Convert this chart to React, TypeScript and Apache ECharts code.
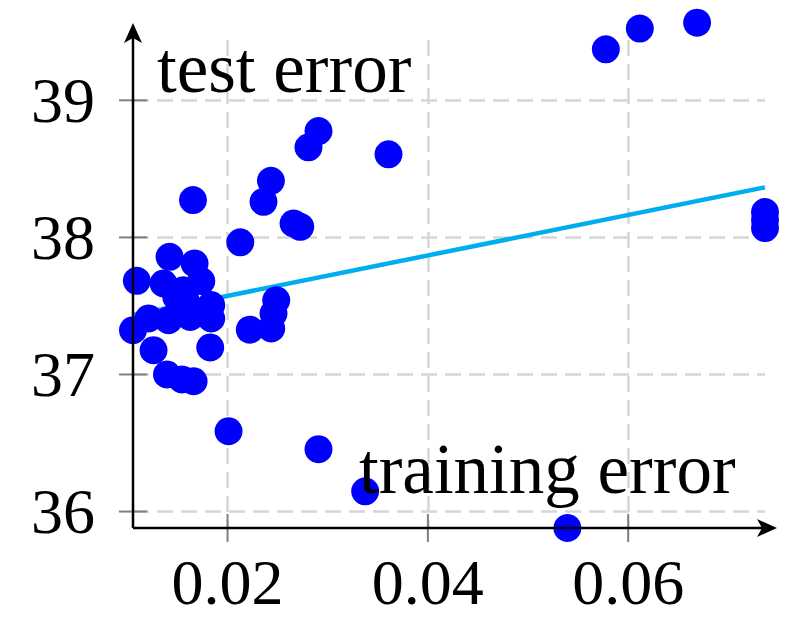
import React, { useEffect, useRef } from "react";
import * as echarts from "echarts";

// training error (x) and test error (y) of each run
const trainingError = [
  0.01094, 0.01421, 0.01671, 0.01738, 0.01361, 0.01488, 0.01558, 0.01588, 0.01837, 0.01837,
  0.01627, 0.01411, 0.01212, 0.01056, 0.01261, 0.01827, 0.01395, 0.01545, 0.01661, 0.0201,
  0.02908, 0.03374, 0.05393, 0.02222, 0.02436, 0.02459, 0.02486, 0.02127, 0.02659, 0.02726,
  0.02359, 0.02433, 0.02808, 0.02908, 0.03607, 0.01655, 0.05777, 0.06116, 0.06688, 0.07366,
  0.07366, 0.07366,
];
const testError = [
  37.683, 37.858, 37.81, 37.681, 37.664, 37.566, 37.615, 37.528, 37.506, 37.409,
  37.42, 37.396, 37.409, 37.323, 37.177, 37.197, 37.0, 36.964, 36.951, 36.586,
  36.455, 36.148, 35.88, 37.327, 37.336, 37.445, 37.542, 37.964, 38.102, 38.077,
  38.26, 38.413, 38.657, 38.776, 38.606, 38.272, 39.372, 39.523, 39.566, 38.185,
  38.126, 38.068,
];

// fitted trend line end points
const trendX = [0.01056, 0.07366];
const trendY = [37.434, 38.365];

const xTicks = [0.02, 0.04, 0.06];
const xTickLabels = ["0.02", "0.04", "0.06"];
const yTicks = [36, 37, 38, 39];
const yTickLabels = ["36", "37", "38", "39"];

const xMin = 0.01056;
const xMax = 0.07366;
const yMin = 35.88;
const yMax = 39.44;

const FONT = "'Liberation Serif', 'Times New Roman', serif";

export default function App() {
  const ref = useRef<HTMLDivElement>(null);
  useEffect(() => {
    const chart = echarts.init(ref.current!, null, { renderer: "svg" });
    const points = trainingError.map((x, i) => [x, testError[i]]);
    const trend = trendX.map((x, i) => [x, trendY[i]]);
    const splitStyle = { type: [16, 8], color: "#d6d6d6", width: 2.5 };
    chart.setOption({
      animation: false,
      grid: { left: 133, right: 23, top: 40, bottom: 110 },
      xAxis: {
        type: "value",
        min: xMin,
        max: xMax,
        axisLine: { show: false },
        axisTick: { show: false, customValues: xTicks },
        axisLabel: {
          customValues: xTicks,
          formatter: (v: number) => {
            const i = xTicks.findIndex((t) => Math.abs(t - v) < 1e-9);
            return i >= 0 ? xTickLabels[i] : "";
          },
          fontFamily: FONT,
          fontSize: 64,
          color: "#000",
          margin: 54,
          verticalAlign: "middle",
        },
        splitLine: { show: true, lineStyle: splitStyle },
      },
      yAxis: {
        type: "value",
        min: yMin,
        max: yMax,
        axisLine: { show: false },
        axisTick: { show: false, customValues: yTicks },
        axisLabel: {
          customValues: yTicks,
          formatter: (v: number) => {
            const i = yTicks.findIndex((t) => Math.abs(t - v) < 1e-9);
            return i >= 0 ? yTickLabels[i] : "";
          },
          fontFamily: FONT,
          fontSize: 64,
          color: "#000",
          margin: 38,
          verticalAlign: "middle",
        },
        splitLine: { show: true, lineStyle: splitStyle },
      },
      series: [
        {
          type: "line",
          data: trend,
          symbol: "none",
          lineStyle: { color: "#00aeef", width: 4.5 },
          z: 2,
          silent: true,
        },
        {
          type: "scatter",
          data: points,
          symbol: "circle",
          symbolSize: 28,
          itemStyle: { color: "#0000ff", opacity: 1 },
          clip: false,
          z: 3,
          silent: true,
        },
      ],
    });

    const o = chart.convertToPixel({ gridIndex: 0 }, [xMin, yMin]) as number[];
    const xe = chart.convertToPixel({ gridIndex: 0 }, [xMax, yMin]) as number[];
    const ye = chart.convertToPixel({ gridIndex: 0 }, [xMin, yMax]) as number[];
    const xTip = xe[0] + 12;
    const yTip = ye[1] - 17;
    const graphic: any[] = [];
    xTicks.forEach((t) => {
      const p = chart.convertToPixel({ gridIndex: 0 }, [t, yMin]) as number[];
      graphic.push({
        type: "line",
        shape: { x1: p[0], y1: o[1] - 14, x2: p[0], y2: o[1] + 14 },
        style: { stroke: "#808080", lineWidth: 2 },
        z: 5,
      });
    });
    yTicks.forEach((t) => {
      const p = chart.convertToPixel({ gridIndex: 0 }, [xMin, t]) as number[];
      graphic.push({
        type: "line",
        shape: { x1: o[0] - 14, y1: p[1], x2: o[0] + 14, y2: p[1] },
        style: { stroke: "#808080", lineWidth: 2 },
        z: 5,
      });
    });
    graphic.push(
      {
        type: "line",
        shape: { x1: o[0], y1: o[1], x2: xTip - 6, y2: o[1] },
        style: { stroke: "#000", lineWidth: 2.5 },
        z: 6,
      },
      {
        type: "line",
        shape: { x1: o[0], y1: o[1], x2: o[0], y2: yTip + 6 },
        style: { stroke: "#000", lineWidth: 2.5 },
        z: 6,
      },
      {
        type: "polygon",
        shape: {
          points: [
            [xTip, o[1]],
            [xTip - 20, o[1] - 9],
            [xTip - 15, o[1]],
            [xTip - 20, o[1] + 9],
          ],
        },
        style: { fill: "#000" },
        z: 6,
      },
      {
        type: "polygon",
        shape: {
          points: [
            [o[0], yTip],
            [o[0] - 9, yTip + 20],
            [o[0], yTip + 15],
            [o[0] + 9, yTip + 20],
          ],
        },
        style: { fill: "#000" },
        z: 6,
      },
      {
        type: "text",
        x: 157,
        y: 68,
        style: {
          text: "test error",
          fontFamily: FONT,
          fontSize: 71,
          fill: "#000",
          align: "left",
          verticalAlign: "middle",
        },
        z: 7,
      },
      {
        type: "text",
        x: 359,
        y: 469,
        style: {
          text: "training error",
          fontFamily: FONT,
          fontSize: 71,
          fill: "#000",
          align: "left",
          verticalAlign: "middle",
        },
        z: 7,
      }
    );
    chart.setOption({ graphic });
    return () => chart.dispose();
  }, []);
  return (
    <div
      ref={ref}
      style={{ position: "absolute", left: 0, top: 0, width: 788, height: 638 }}
    />
  );
}
